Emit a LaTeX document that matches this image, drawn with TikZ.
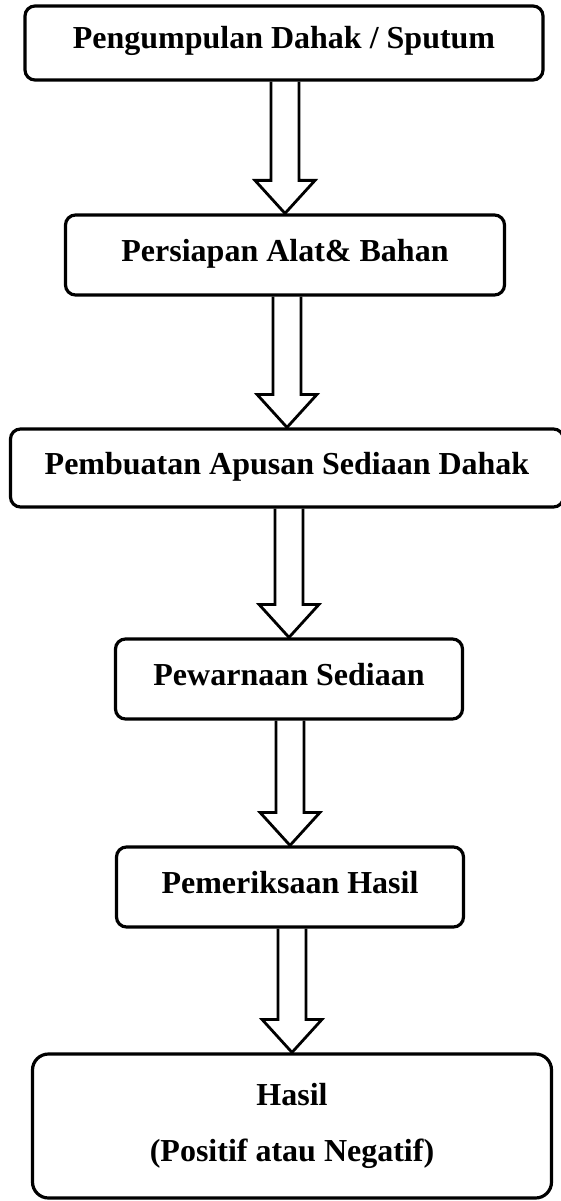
\documentclass[tikz,border=0pt]{standalone}
\usepackage{fontspec}
\setmainfont{Liberation Serif}
\usepackage{tikz}
\usetikzlibrary{calc}

\newcommand{\flowarrow}[2]{%
  \draw[line width=2.8pt,line join=miter] ($(#1.south -| #2.north)+(-14pt,0pt)$) -- ($(#2.north)+(-14pt,33pt)$) -- ($(#2.north)+(-30pt,33pt)$) -- (#2.north) -- ($(#2.north)+(30pt,33pt)$) -- ($(#2.north)+(14pt,33pt)$) -- ($(#1.south -| #2.north)+(14pt,0pt)$);}

\begin{document}
\begin{tikzpicture}[x=1pt,y=-1pt,every node/.style={font=\bfseries\fontsize{32}{56}\selectfont,align=center},
    stepbox/.style={draw,line width=3.2pt,rounded corners=10pt,text height=20pt,text depth=8pt},
    endbox/.style={draw,line width=3.2pt,rounded corners=16pt}]
      \useasboundingbox (0,0) rectangle (561,1201);
      \node[stepbox,minimum width=518pt,minimum height=74pt] (kumpul) at (284,43) {Pengumpulan Dahak / Sputum};
      \node[stepbox,minimum width=439pt,minimum height=80pt] (siap) at (285,255) {Persiapan Alat\& Bahan};
      \node[stepbox,minimum width=553pt,minimum height=78pt] (apusan) at (287,468) {Pembuatan Apusan Sediaan Dahak};
      \node[stepbox,minimum width=347pt,minimum height=80pt] (warna) at (289,679) {Pewarnaan Sediaan};
      \node[stepbox,minimum width=347pt,minimum height=80pt] (periksa) at (290,887) {Pemeriksaan Hasil};
      \node[endbox,minimum width=519pt,minimum height=144pt] (hasil) at (292,1126) {Hasil\\(Positif atau Negatif)};
      \flowarrow{kumpul}{siap}
      \flowarrow{siap}{apusan}
      \flowarrow{apusan}{warna}
      \flowarrow{warna}{periksa}
      \flowarrow{periksa}{hasil}
\end{tikzpicture}
\end{document}
